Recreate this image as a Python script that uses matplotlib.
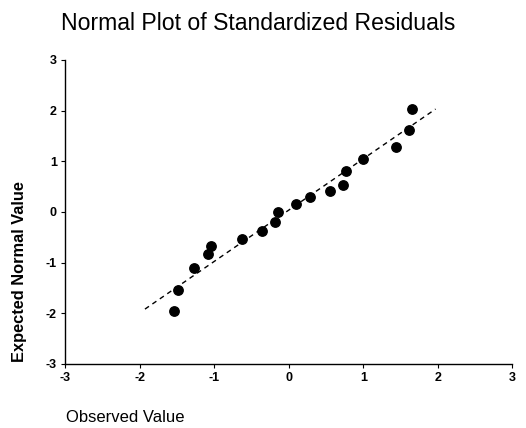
import matplotlib

matplotlib.use("Agg")
import matplotlib.pyplot as plt

# observed standardized residuals vs expected normal values
observed = [-1.54, -1.48, -1.27, -1.08, -1.04, -0.63, -0.36, -0.18, -0.14,
            0.10, 0.28, 0.55, 0.73, 0.77, 0.99, 1.44, 1.61, 1.66]
expected = [-1.96, -1.54, -1.11, -0.84, -0.67, -0.53, -0.38, -0.21, -0.01,
            0.15, 0.29, 0.41, 0.54, 0.80, 1.05, 1.28, 1.61, 2.03]
ref_line_x = [-1.93, 1.97]
ref_line_y = [-1.92, 2.03]
ticks = [-3, -2, -1, 0, 1, 2, 3]

plt.rcParams["font.family"] = ["Liberation Sans", "DejaVu Sans"]

fig = plt.figure(figsize=(5.26, 4.28), dpi=100)
ax = fig.add_axes([0.124, 0.15, 0.85, 0.71])

ax.plot(ref_line_x, ref_line_y, color="black", linestyle=(0, (3.5, 3)), linewidth=1)
ax.scatter(observed, expected, s=46, color="black", zorder=3)

ax.set_xlim(-3, 3)
ax.set_ylim(-3, 3)
ax.set_xticks(ticks)
ax.set_yticks(ticks)
ax.set_xticklabels([str(t) for t in ticks], fontsize=9, fontweight="bold")
ax.set_yticklabels([str(t) for t in ticks], fontsize=9, fontweight="bold")
ax.tick_params(direction="out", length=3, width=0.8, pad=3)
ax.spines["top"].set_visible(False)
ax.spines["right"].set_visible(False)
ax.spines["left"].set_linewidth(1)
ax.spines["bottom"].set_linewidth(1)

fig.text(0.49, 0.945, "Normal Plot of Standardized Residuals", fontsize=16.6,
         ha="center", va="center")
fig.text(0.038, 0.365, "Expected Normal Value", fontsize=11.8, fontweight="bold",
         rotation=90, ha="center", va="center")
fig.text(0.125, 0.025, "Observed Value", fontsize=12, ha="left", va="center")

fig.savefig("out.png", dpi=100)
